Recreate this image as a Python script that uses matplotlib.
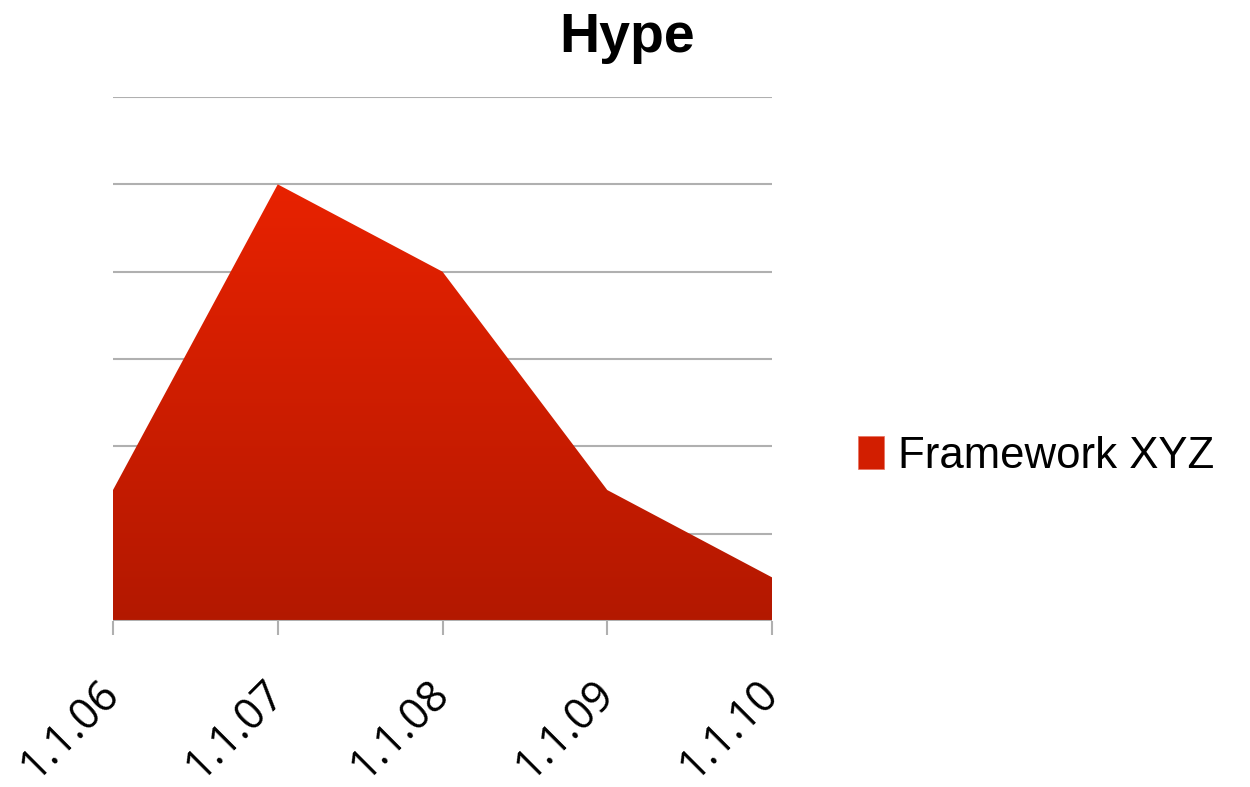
import matplotlib
matplotlib.use('Agg')
import matplotlib.pyplot as plt
import matplotlib.patches as mpatches
from matplotlib.colors import LinearSegmentedColormap
import numpy as np

dates = ['1.1.06', '1.1.07', '1.1.08', '1.1.09', '1.1.10']
hype = [1.5, 5.0, 4.0, 1.5, 0.5]
series_name = 'Framework XYZ'

fig = plt.figure(figsize=(12.5, 7.87), dpi=100)
ax = fig.add_axes([0.0904, 0.2109, 0.5272, 0.6658])

x = np.arange(len(dates))
ymax = 6

# gradient fill clipped to the area polygon
grad = LinearSegmentedColormap.from_list('hype', ['#b31800', '#e82200'])
img = ax.imshow(np.linspace(0, 1, 256).reshape(-1, 1), cmap=grad, aspect='auto',
                origin='lower', extent=[x[0], x[-1], 0, max(hype)],
                vmin=0, vmax=1, zorder=2)
verts = np.vstack([np.column_stack([x, hype]), [[x[-1], 0], [x[0], 0]]])
clip = mpatches.Polygon(verts, closed=True, transform=ax.transData)
img.set_clip_path(clip)

for yv in range(1, ymax + 1):
    ax.axhline(yv, color='#b0b0b0', lw=1.5, zorder=1)
ax.axhline(0, color='#b0b0b0', lw=1.5, zorder=3)

ax.set_xlim(x[0], x[-1])
ax.set_ylim(0, ymax)
ax.set_xticks(x)
ax.set_xticklabels(dates, rotation=45, ha='right', va='center',
                   rotation_mode='anchor', fontsize=31, family='Open Sans')
ax.tick_params(axis='x', direction='out', length=10, width=1.5, color='#b0b0b0', pad=38)
ax.set_yticks([])
for sp in ax.spines.values():
    sp.set_visible(False)

fig.text(0.502, 0.952, 'Hype', ha='center', va='center', fontsize=40,
         fontweight='bold', family='Liberation Sans')

handle = mpatches.Patch(facecolor='#d21e00', edgecolor='#e87060', lw=0.5, label=series_name)
fig.legend(handles=[handle], loc='center left', bbox_to_anchor=(0.655, 0.42),
           frameon=False, handlelength=0.6, handleheight=0.8,
           handletextpad=0.3, prop={'family': 'Liberation Sans', 'size': 31.5})

fig.savefig('out.png', dpi=100)
